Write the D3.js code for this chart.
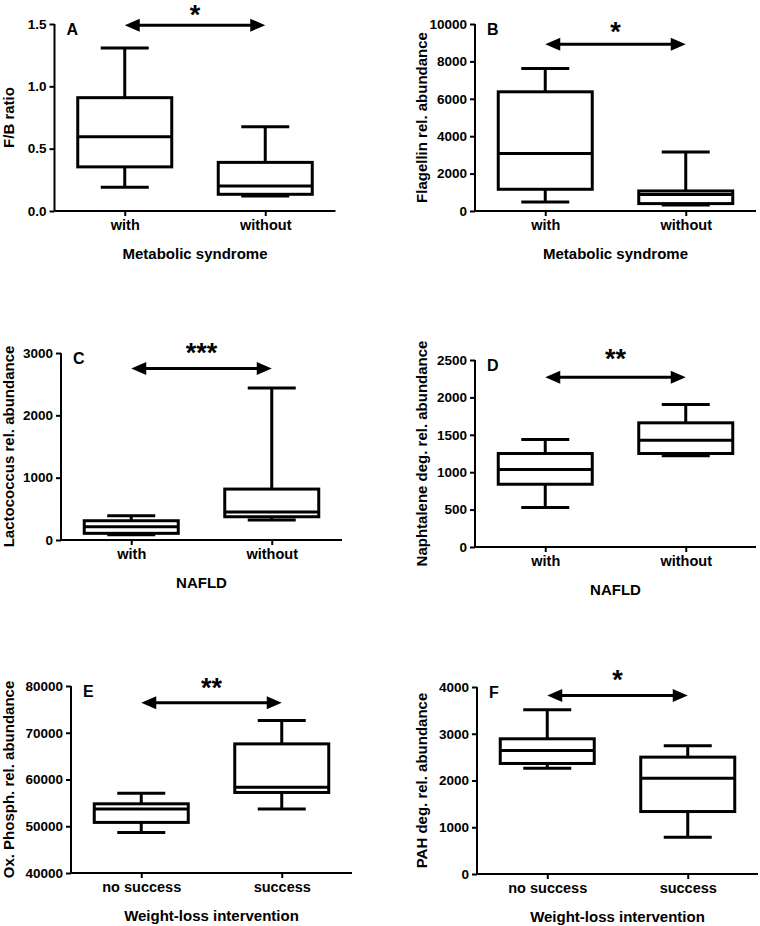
<!DOCTYPE html>
<html>
<head>
<meta charset="utf-8">
<script src="https://cdn.jsdelivr.net/npm/d3@7"></script>
<style>
  html, body { margin: 0; padding: 0; background: #fff; }
  svg { display: block; }
  text { font-family: "Liberation Sans", Arial, sans-serif; font-weight: bold; fill: #000; }
</style>
</head>
<body>
<svg id="chart" width="760" height="926"></svg>
<script>
// ---------- DATA ----------
const panelLetters = ["A", "B", "C", "D", "E", "F"];
const yTitles = [
  "F/B ratio",
  "Flagellin rel. abundance",
  "Lactococcus rel. abundance",
  "Naphtalene deg. rel. abundance",
  "Ox. Phosph. rel. abundance",
  "PAH deg. rel. abundance"
];
const xTitles = [
  "Metabolic syndrome", "Metabolic syndrome",
  "NAFLD", "NAFLD",
  "Weight-loss intervention", "Weight-loss intervention"
];
const categories = [
  ["with", "without"], ["with", "without"],
  ["with", "without"], ["with", "without"],
  ["no success", "success"], ["no success", "success"]
];
// box stats: [min, q1, median, q3, max] per category
const fbRatio     = [[0.19, 0.354, 0.595, 0.909, 1.307], [0.12, 0.134, 0.2, 0.39, 0.676]];
const flagellin   = [[482, 1162, 3074, 6374, 7627], [321, 396, 880, 1071, 3160]];
const lactococcus = [[85, 107, 213, 309, 389], [320, 373, 450, 817, 2439]];
const naphtalene  = [[527, 839, 1035, 1250, 1437], [1220, 1250, 1428, 1660, 1906]];
const oxPhosph    = [[48683, 50823, 53668, 54800, 57084], [53668, 57227, 58363, 67617, 72604]];
const pahDeg      = [[2264, 2364, 2643, 2892, 3514], [786, 1336, 2050, 2500, 2743]];
const panelStats = [fbRatio, flagellin, lactococcus, naphtalene, oxPhosph, pahDeg];

const yDomains = [[0, 1.5], [0, 10000], [0, 3000], [0, 2500], [40000, 80000], [0, 4000]];
const yTickValues = [
  [0, 0.5, 1.0, 1.5],
  [0, 2000, 4000, 6000, 8000, 10000],
  [0, 1000, 2000, 3000],
  [0, 500, 1000, 1500, 2000, 2500],
  [40000, 50000, 60000, 70000, 80000],
  [0, 1000, 2000, 3000, 4000]
];
const yTickFormats = [".1f", "d", "d", "d", "d", "d"];
const significance = ["*", "*", "***", "**", "**", "*"];
const arrowLevel = [1.49, 8913, 2750, 2268, 76434, 3820];   // arrow height in data units
const starLevel  = [1.62, 9909, 3096, 2590, 80855, 4285];   // star centre in data units

// ---------- LAYOUT ----------
const plotW = 281, plotH = 187;
const panelOrigins = [[54.5, 24], [475, 24], [61, 353], [475, 360], [71, 686], [477, 687]];
const yTitleX = [8.3, 421.7, 8.3, 421.7, 8.3, 421.7];
const boxW = 94, capW = 48;

const svg = d3.select("#chart");

panelStats.forEach((stats, i) => {
  const [ox, oy] = panelOrigins[i];
  const g = svg.append("g").attr("transform", `translate(${ox},${oy})`);

  const x = d3.scalePoint().domain(categories[i]).range([0, plotW]).padding(0.5);
  const y = d3.scaleLinear().domain(yDomains[i]).range([plotH, 0]);

  // Axes
  const yAxis = d3.axisLeft(y).tickValues(yTickValues[i])
    .tickFormat(d3.format(yTickFormats[i])).tickSize(5).tickPadding(3);
  const gy = g.append("g").call(yAxis);
  gy.select(".domain").attr("stroke-width", 2).attr("d", `M0,0V${plotH}`);
  gy.selectAll(".tick line").attr("stroke-width", 2);
  gy.selectAll(".tick text").style("font-size", "13.5px");

  const xAxis = d3.axisBottom(x).tickSize(5).tickPadding(4);
  const gx = g.append("g").attr("transform", `translate(0,${plotH})`).call(xAxis);
  gx.select(".domain").attr("stroke-width", 2).attr("d", `M0,0H${plotW}`);
  gx.selectAll(".tick line").attr("stroke-width", 2);
  gx.selectAll(".tick text").style("font-size", "14.5px");

  // Axis titles
  g.append("text")
    .attr("x", plotW / 2).attr("y", plotH + 48)
    .attr("text-anchor", "middle").style("font-size", "15px")
    .text(xTitles[i]);
  svg.append("text")
    .attr("transform", `translate(${yTitleX[i]},${oy + plotH / 2}) rotate(-90)`)
    .attr("text-anchor", "middle").attr("dy", "0.35em").style("font-size", "15px")
    .text(yTitles[i]);

  // Panel letter
  g.append("text").attr("x", 12).attr("y", 11)
    .style("font-size", "16px").text(panelLetters[i]);

  // Boxes
  const boxes = g.selectAll(".box").data(stats.map((s, k) => ({ cat: categories[i][k], s })))
    .enter().append("g").attr("class", "box")
    .attr("transform", d => `translate(${x(d.cat)},0)`);

  const st = { stroke: "#000", "stroke-width": 3, fill: "none" };
  const applyStyle = sel => { Object.entries(st).forEach(([k, v]) => sel.attr(k, v)); return sel; };

  // whiskers
  applyStyle(boxes.append("line").attr("x1", 0).attr("x2", 0)
    .attr("y1", d => y(d.s[4])).attr("y2", d => y(d.s[3])));
  applyStyle(boxes.append("line").attr("x1", 0).attr("x2", 0)
    .attr("y1", d => y(d.s[1])).attr("y2", d => y(d.s[0])));
  // caps
  applyStyle(boxes.append("line").attr("x1", -capW / 2).attr("x2", capW / 2)
    .attr("y1", d => y(d.s[4])).attr("y2", d => y(d.s[4])));
  applyStyle(boxes.append("line").attr("x1", -capW / 2).attr("x2", capW / 2)
    .attr("y1", d => y(d.s[0])).attr("y2", d => y(d.s[0])));
  // box
  applyStyle(boxes.append("rect").attr("x", -boxW / 2).attr("width", boxW)
    .attr("y", d => y(d.s[3])).attr("height", d => y(d.s[1]) - y(d.s[3])))
    .attr("fill", "#fff");
  // median
  applyStyle(boxes.append("line").attr("x1", -boxW / 2).attr("x2", boxW / 2)
    .attr("y1", d => y(d.s[2])).attr("y2", d => y(d.s[2])));

  // Significance arrow
  const xa = x(categories[i][0]), xb = x(categories[i][1]);
  const ay = y(arrowLevel[i]);
  const headL = 15, headH = 6.5;
  g.append("line").attr("x1", xa + headL - 1).attr("x2", xb - headL + 1)
    .attr("y1", ay).attr("y2", ay).attr("stroke", "#000").attr("stroke-width", 3);
  g.append("path").attr("d", `M${xa},${ay}L${xa + headL},${ay - headH}L${xa + headL},${ay + headH}Z`).attr("fill", "#000");
  g.append("path").attr("d", `M${xb},${ay}L${xb - headL},${ay - headH}L${xb - headL},${ay + headH}Z`).attr("fill", "#000");

  // Stars
  const fs = 27;
  g.append("text").attr("x", (xa + xb) / 2).attr("y", y(starLevel[i]) + 0.56 * fs)
    .attr("text-anchor", "middle").style("font-size", fs + "px")
    .text(significance[i]);
});
</script>
</body>
</html>
